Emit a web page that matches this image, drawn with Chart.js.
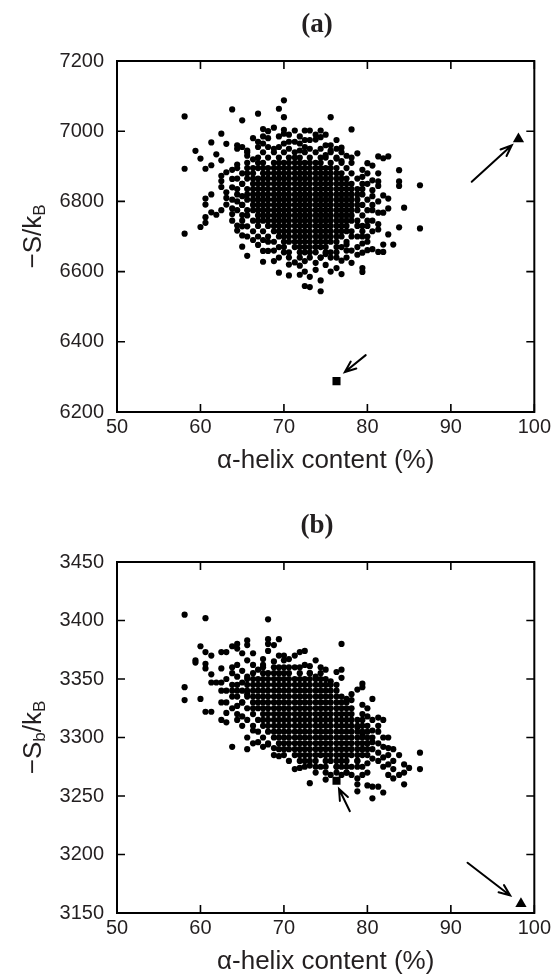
<!DOCTYPE html>
<html>
<head>
<meta charset="utf-8">
<script src="https://cdn.jsdelivr.net/npm/chart.js@4.4.1/dist/chart.umd.min.js"></script>
<style>
  html, body { margin: 0; padding: 0; background: #fff; }
  #wrapA { position: absolute; left: 0; top: 0; width: 554px; height: 487px; }
  #wrapB { position: absolute; left: 0; top: 487px; width: 554px; height: 488px; }
</style>
</head>
<body>
<div id="wrapA"><canvas id="chartA" width="554" height="487"></canvas></div>
<div id="wrapB"><canvas id="chartB" width="554" height="488"></canvas></div>
<script>
const FONT = '"Liberation Sans", Arial, sans-serif';
const INK = '#231f20';

// axis ticks
const xTicks = [50, 60, 70, 80, 90, 100];
const yTicksA = [6200, 6400, 6600, 6800, 7000, 7200];
const yTicksB = [3150, 3200, 3250, 3300, 3350, 3400, 3450];

// (a) dense part of the cloud, read row by row: [ -S/kB , [helix % ...] ]
const coreA = [
  [6940, [65.6, 67.5, 68.8, 70.0, 71.3, 72.5, 73.8, 75.6]],
  [6925, [66.9, 68.1, 69.4, 70.6, 71.3, 71.9, 73.1, 74.4, 75.0, 76.3]],
  [6910, [65.6, 66.9, 67.5, 68.8, 69.4, 70.0, 70.6, 71.3, 71.9, 72.5, 73.1, 73.8, 74.4, 75.6, 76.9]],
  [6895, [64.4, 65.6, 66.3, 66.9, 67.5, 68.1, 68.8, 69.4, 70.0, 70.6, 71.3, 71.9, 72.5, 73.1, 73.8, 74.4, 75.0, 75.6, 76.3, 77.5]],
  [6880, [65.0, 65.6, 66.3, 67.5, 68.1, 68.8, 69.4, 70.0, 70.6, 71.3, 71.9, 72.5, 73.1, 73.8, 74.4, 75.0, 75.6, 76.3, 76.9, 78.1]],
  [6865, [64.4, 65.6, 66.3, 66.9, 67.5, 68.1, 68.8, 69.4, 70.0, 70.6, 71.3, 71.9, 72.5, 73.1, 73.8, 74.4, 75.0, 75.6, 76.3, 76.9, 77.5, 78.8]],
  [6850, [65.0, 66.3, 66.9, 67.5, 68.1, 68.8, 69.4, 70.0, 70.6, 71.3, 71.9, 72.5, 73.1, 73.8, 74.4, 75.0, 75.6, 76.3, 76.9, 77.5, 78.1, 79.4]],
  [6835, [65.6, 66.3, 66.9, 67.5, 68.1, 68.8, 69.4, 70.0, 70.6, 71.3, 71.9, 72.5, 73.1, 73.8, 74.4, 75.0, 75.6, 76.3, 76.9, 77.5, 78.1, 78.8]],
  [6820, [64.4, 65.6, 66.3, 66.9, 67.5, 68.1, 68.8, 69.4, 70.0, 70.6, 71.3, 71.9, 72.5, 73.1, 73.8, 74.4, 75.0, 75.6, 76.3, 76.9, 77.5, 78.1, 78.8, 79.4]],
  [6805, [65.6, 66.3, 66.9, 67.5, 68.1, 68.8, 69.4, 70.0, 70.6, 71.3, 71.9, 72.5, 73.1, 73.8, 74.4, 75.0, 75.6, 76.3, 76.9, 77.5, 78.1, 78.8, 80.0]],
  [6790, [65.0, 66.3, 66.9, 67.5, 68.1, 68.8, 69.4, 70.0, 70.6, 71.3, 71.9, 72.5, 73.1, 73.8, 74.4, 75.0, 75.6, 76.3, 76.9, 77.5, 78.1, 78.8, 79.4]],
  [6775, [66.3, 66.9, 67.5, 68.1, 68.8, 69.4, 70.0, 70.6, 71.3, 71.9, 72.5, 73.1, 73.8, 74.4, 75.0, 75.6, 76.3, 76.9, 77.5, 78.1, 78.8, 80.0]],
  [6760, [65.6, 66.9, 67.5, 68.1, 68.8, 69.4, 70.0, 70.6, 71.3, 71.9, 72.5, 73.1, 73.8, 74.4, 75.0, 75.6, 76.3, 76.9, 77.5, 78.1, 79.4]],
  [6745, [66.3, 67.5, 68.1, 68.8, 69.4, 70.0, 70.6, 71.3, 71.9, 72.5, 73.1, 73.8, 74.4, 75.0, 75.6, 76.3, 76.9, 77.5, 78.1, 78.8, 80.0]],
  [6730, [66.9, 68.1, 68.8, 69.4, 70.0, 70.6, 71.3, 71.9, 72.5, 73.1, 73.8, 74.4, 75.0, 75.6, 76.3, 76.9, 77.5, 78.8, 79.4]],
  [6715, [67.5, 68.8, 69.4, 70.0, 70.6, 71.3, 71.9, 72.5, 73.1, 73.8, 74.4, 75.0, 75.6, 76.3, 76.9, 77.5, 78.1, 79.4]],
  [6700, [68.1, 69.4, 70.0, 70.6, 71.3, 71.9, 72.5, 73.1, 73.8, 74.4, 75.0, 75.6, 76.3, 76.9, 78.1, 78.8]],
  [6685, [68.8, 70.0, 70.6, 71.3, 71.9, 72.5, 73.1, 73.8, 74.4, 75.0, 75.6, 76.3, 77.5]],
  [6670, [70.0, 71.3, 71.9, 72.5, 73.1, 73.8, 74.4, 75.0, 76.3, 76.9]],
  [6655, [70.6, 71.9, 72.5, 73.1, 73.8, 75.0, 75.6]],
  [6640, [71.9, 73.1, 74.4, 76.3]]
];

// (a) scattered points round the dense part: [helix %, -S/kB]
const outerA = [
  [58.1, 7042], [58.1, 6893], [58.1, 6708], [59.4, 6944], [60.0, 6922], [60.0, 6727],
  [60.6, 6893], [60.6, 6808], [60.6, 6791], [60.6, 6755], [60.6, 6739],
  [61.3, 6968], [61.3, 6903], [61.3, 6820], [61.3, 6769], [61.9, 6934], [61.9, 6762],
  [62.5, 6993], [62.5, 6917], [62.5, 6873], [62.5, 6858], [62.5, 6841], [62.5, 6775],
  [63.1, 6964], [63.1, 6883], [63.1, 6826], [63.1, 6791],
  [63.8, 7062], [63.8, 6864], [63.8, 6764], [63.8, 6745], [64.4, 6731], [64.4, 6717],
  [65.0, 7031], [65.0, 6761], [65.0, 6729], [65.0, 6703], [65.0, 6671],
  [65.6, 6700], [65.6, 6729], [65.6, 6645], [66.9, 7050], [66.9, 6676],
  [67.5, 6628], [67.5, 6659], [68.1, 6659], [70.0, 7088], [69.4, 7064], [70.0, 7040],
  [67.5, 7006], [68.1, 7000], [68.8, 7010], [70.0, 7004], [70.0, 6993], [67.5, 6985], [68.1, 6980], [66.3, 6980],
  [64.4, 6960], [65.0, 6955], [65.6, 6945], [66.9, 6955], [67.5, 6965], [68.1, 6955], [68.8, 6950],
  [70.0, 6965], [70.6, 6970], [71.3, 6970], [71.9, 6965], [72.5, 6975], [73.1, 6975], [73.8, 6976], [74.4, 6983], [75.0, 6960],
  [71.3, 7002], [72.5, 7002], [73.1, 7002], [74.4, 7002], [75.6, 7040], [78.1, 7005],
  [75.6, 6960], [76.9, 6953], [78.8, 6937], [75.0, 6932], [76.3, 6922], [76.9, 6915], [78.1, 6910],
  [81.3, 6928], [81.9, 6923], [82.5, 6928], [80.0, 6909], [80.6, 6902],
  [83.8, 6889], [83.8, 6857], [83.8, 6844], [86.3, 6846], [86.3, 6723], [84.4, 6782], [83.8, 6726],
  [82.5, 6808], [82.5, 6780], [82.5, 6706], [81.9, 6817], [81.9, 6768], [81.3, 6768], [81.3, 6857], [81.3, 6844],
  [80.6, 6832], [79.4, 6870], [80.6, 6790], [80.6, 6745], [80.6, 6715], [80.0, 6700],
  [81.9, 6677], [83.1, 6677], [81.3, 6656], [81.9, 6656], [80.6, 6664], [80.0, 6661], [78.8, 6648], [79.4, 6654], [77.5, 6677],
  [74.4, 6544], [72.5, 6559], [73.1, 6556], [69.4, 6597], [70.6, 6589], [71.9, 6591], [73.8, 6605], [75.0, 6619],
  [76.3, 6610], [76.9, 6593], [76.9, 6631], [79.4, 6610], [79.4, 6599], [71.3, 6626], [71.9, 6617],
  [69.4, 6640], [70.6, 6640], [77.5, 6640],
  [64.4, 6950], [65.6, 6930], [66.3, 6920], [64.4, 6905], [63.8, 6890], [63.8, 6840], [64.4, 6835], [64.4, 6800],
  [63.8, 6805], [63.1, 6810], [64.4, 6775], [63.8, 6780], [65.0, 6745], [65.6, 6775], [66.3, 6715], [66.9, 6700],
  [66.3, 6690], [67.5, 6690], [68.1, 6685], [66.9, 6745], [65.0, 6850], [65.0, 6815], [65.0, 6790],
  [66.9, 6970], [69.4, 6985], [70.6, 6990], [71.9, 6985], [73.8, 6990], [75.0, 6990], [76.3, 6975], [76.9, 6940],
  [77.5, 6930], [78.1, 6925], [75.6, 6945], [74.4, 6950], [73.1, 6950], [71.9, 6945], [69.4, 6955], [70.6, 6950],
  [72.5, 6955], [76.3, 6950],
  [79.4, 6890], [80.0, 6880], [80.6, 6860], [80.6, 6815], [81.3, 6800], [80.6, 6775], [81.3, 6735], [81.3, 6720],
  [80.0, 6730], [79.4, 6700], [80.0, 6685], [79.4, 6680], [78.8, 6670], [78.1, 6660], [80.0, 6850], [79.4, 6835], [81.3, 6880],
  [68.8, 6660], [69.4, 6670], [70.0, 6655], [68.8, 6630], [70.6, 6620], [72.5, 6630], [73.8, 6625], [74.4, 6640],
  [75.6, 6640], [76.3, 6655], [77.5, 6660], [75.0, 6650], [72.5, 6600], [73.1, 6585], [74.4, 6575], [75.6, 6600], [78.1, 6625]
];
const squareA = [76.3, 6288];
const triangleA = [98.1, 6978];
// arrows: [tail x, tail y, head x, head y]
const arrowsA = [[79.8, 6362, 77.3, 6314], [92.5, 6856, 97.3, 6960]];

// (b) dense part, rows of [ -Sb/kB , [helix % ...] ]
const coreB = [
  [3360, [67.5, 68.8, 69.4, 70.6, 71.3]],
  [3355, [66.3, 67.5, 68.1, 68.8, 69.4, 70.0, 70.6, 71.9, 73.1, 74.4]],
  [3350, [65.6, 66.9, 67.5, 68.1, 68.8, 69.4, 70.0, 70.6, 71.3, 71.9, 72.5, 73.1, 73.8, 75.0]],
  [3345, [64.4, 65.6, 66.3, 66.9, 67.5, 68.1, 68.8, 69.4, 70.0, 70.6, 71.3, 71.9, 72.5, 73.1, 73.8, 74.4, 75.0, 75.6]],
  [3340, [63.8, 65.0, 65.6, 66.3, 66.9, 67.5, 68.1, 68.8, 69.4, 70.0, 70.6, 71.3, 71.9, 72.5, 73.1, 73.8, 74.4, 75.0, 75.6, 76.3]],
  [3335, [64.4, 65.6, 66.3, 66.9, 67.5, 68.1, 68.8, 69.4, 70.0, 70.6, 71.3, 71.9, 72.5, 73.1, 73.8, 74.4, 75.0, 75.6, 76.3, 76.9]],
  [3330, [65.0, 66.3, 66.9, 67.5, 68.1, 68.8, 69.4, 70.0, 70.6, 71.3, 71.9, 72.5, 73.1, 73.8, 74.4, 75.0, 75.6, 76.3, 76.9, 77.5]],
  [3325, [65.6, 66.3, 66.9, 67.5, 68.1, 68.8, 69.4, 70.0, 70.6, 71.3, 71.9, 72.5, 73.1, 73.8, 74.4, 75.0, 75.6, 76.3, 76.9, 77.5, 78.1]],
  [3320, [64.4, 66.3, 67.5, 68.1, 68.8, 69.4, 70.0, 70.6, 71.3, 71.9, 72.5, 73.1, 73.8, 74.4, 75.0, 75.6, 76.3, 76.9, 77.5, 78.1]],
  [3315, [65.6, 66.9, 67.5, 68.1, 68.8, 69.4, 70.0, 70.6, 71.3, 71.9, 72.5, 73.1, 73.8, 74.4, 75.0, 75.6, 76.3, 76.9, 77.5, 78.1, 78.8]],
  [3310, [66.3, 67.5, 68.1, 68.8, 69.4, 70.0, 70.6, 71.3, 71.9, 72.5, 73.1, 73.8, 74.4, 75.0, 75.6, 76.3, 76.9, 77.5, 78.1, 78.8]],
  [3305, [66.9, 68.1, 68.8, 69.4, 70.0, 70.6, 71.3, 71.9, 72.5, 73.1, 73.8, 74.4, 75.0, 75.6, 76.3, 76.9, 77.5, 78.1, 78.8, 79.4]],
  [3300, [67.5, 68.8, 69.4, 70.0, 70.6, 71.3, 71.9, 72.5, 73.1, 73.8, 74.4, 75.0, 75.6, 76.3, 76.9, 77.5, 78.1, 78.8, 79.4, 80.0]],
  [3295, [68.1, 69.4, 70.0, 70.6, 71.3, 71.9, 72.5, 73.1, 73.8, 74.4, 75.0, 75.6, 76.3, 76.9, 77.5, 78.1, 78.8, 79.4, 80.0]],
  [3290, [70.0, 70.6, 71.3, 71.9, 72.5, 73.1, 73.8, 74.4, 75.0, 75.6, 76.3, 76.9, 77.5, 78.1, 78.8, 79.4]],
  [3285, [71.3, 71.9, 72.5, 73.1, 73.8, 74.4, 75.0, 75.6, 76.3, 76.9, 77.5, 78.1, 78.8]],
  [3280, [71.9, 72.5, 73.1, 73.8, 75.0, 75.6, 76.3, 76.9, 77.5, 78.8]],
  [3275, [72.5, 73.8, 74.4, 75.0, 76.3, 76.9, 77.5]],
  [3270, [73.8, 75.0, 76.3, 77.5]]
];

const outerB = [
  [58.1, 3405], [60.6, 3402], [68.1, 3401], [58.1, 3343], [58.1, 3332], [60.0, 3333], [60.0, 3378],
  [60.6, 3322], [61.3, 3322], [60.6, 3373], [61.3, 3370], [59.4, 3366], [59.4, 3364], [60.6, 3363], [60.6, 3359], [61.3, 3354],
  [61.3, 3347], [61.9, 3347], [62.5, 3347], [62.5, 3373], [63.1, 3373], [63.1, 3321], [63.1, 3313], [62.5, 3315],
  [63.8, 3378], [64.4, 3380], [64.4, 3376], [65.6, 3383], [65.6, 3379], [65.0, 3372], [66.3, 3372],
  [68.1, 3384], [68.1, 3380], [68.8, 3379], [69.4, 3384], [68.1, 3374],
  [70.0, 3370], [70.0, 3366], [70.6, 3367], [71.3, 3370], [71.9, 3373], [72.5, 3374], [73.8, 3366], [73.1, 3361], [74.4, 3360], [75.0, 3358],
  [76.9, 3380], [76.9, 3358], [76.9, 3351], [76.3, 3356],
  [79.4, 3346], [79.4, 3343], [78.8, 3341], [78.1, 3337], [77.5, 3333], [78.1, 3332], [80.6, 3333], [79.4, 3328], [80.0, 3325],
  [81.3, 3317], [81.9, 3315], [79.4, 3315], [79.4, 3310], [78.8, 3309], [80.0, 3305], [80.6, 3306], [79.4, 3303],
  [81.9, 3300], [82.5, 3291], [80.6, 3296], [81.3, 3295], [80.0, 3295],
  [63.8, 3292], [65.6, 3290], [68.1, 3294], [68.8, 3291], [69.4, 3284],
  [86.3, 3287], [86.3, 3273], [84.4, 3260], [84.4, 3270], [84.4, 3277], [85.0, 3274], [83.1, 3273], [82.5, 3277],
  [81.9, 3253], [80.6, 3248], [80.0, 3259], [80.6, 3258], [81.3, 3258], [78.8, 3254], [78.8, 3260], [78.8, 3265],
  [73.1, 3261], [75.0, 3264], [75.6, 3268], [71.3, 3273], [71.9, 3274], [73.1, 3276],
  [80.6, 3290], [80.6, 3282], [81.3, 3287], [81.3, 3280], [81.9, 3283], [81.9, 3275], [82.5, 3285], [82.5, 3268], [83.1, 3280],
  [80.0, 3278], [80.0, 3270], [79.4, 3275], [79.4, 3268],
  [63.1, 3330], [63.8, 3335], [64.4, 3327], [62.5, 3340], [63.8, 3345], [64.4, 3352], [65.0, 3357], [66.3, 3362], [65.6, 3366],
  [67.5, 3367], [69.4, 3370], [62.5, 3359], [63.8, 3360],
  [65.0, 3310], [65.6, 3300], [66.3, 3306], [66.9, 3296], [64.4, 3315], [65.0, 3318],
  [62.5, 3330], [63.1, 3340], [63.8, 3325], [64.4, 3340], [65.0, 3347], [65.0, 3330], [65.6, 3337], [63.1, 3350],
  [63.8, 3355], [64.4, 3362], [65.6, 3352], [66.3, 3350], [66.9, 3358], [67.5, 3362], [68.8, 3365], [70.0, 3360],
  [71.9, 3360], [72.5, 3362], [73.1, 3355], [73.8, 3352], [74.4, 3350], [75.6, 3348], [76.3, 3345],
  [80.6, 3300], [81.3, 3305], [80.0, 3310], [80.6, 3315], [79.4, 3320], [80.0, 3318], [81.3, 3310], [82.5, 3300],
  [81.9, 3292], [83.1, 3290], [83.8, 3285], [83.1, 3265], [83.8, 3268], [80.0, 3285], [79.4, 3285], [78.8, 3280],
  [78.1, 3275], [78.8, 3275], [79.4, 3290], [80.0, 3290], [77.5, 3270], [76.9, 3268], [78.1, 3268], [76.3, 3275],
  [66.3, 3295], [67.5, 3292], [68.8, 3285], [70.0, 3285], [70.6, 3280], [69.4, 3290]
];
const squareB = [76.3, 3263];
const triangleB = [98.4, 3158];
const arrowsB = [[77.9, 3237, 76.6, 3256], [92.0, 3193, 97.1, 3165]];

function toPoints(core, outer) {
  var out = [];
  core.forEach(function (row) {
    row[1].forEach(function (x) { out.push({ x: x, y: row[0] }); });
  });
  outer.forEach(function (p) { out.push({ x: p[0], y: p[1] }); });
  return out;
}

function drawArrow(ctx, x1, y1, x2, y2) {
  var ang = Math.atan2(y2 - y1, x2 - x1), len = 12, spread = 0.38;
  ctx.beginPath();
  ctx.moveTo(x1, y1); ctx.lineTo(x2, y2);
  ctx.moveTo(x2 - len * Math.cos(ang - spread), y2 - len * Math.sin(ang - spread));
  ctx.lineTo(x2, y2);
  ctx.lineTo(x2 - len * Math.cos(ang + spread), y2 - len * Math.sin(ang + spread));
  ctx.stroke();
}

function framePlugin(cfg) {
  return {
    id: 'frame',
    afterDraw: function (chart) {
      var ctx = chart.ctx, a = chart.chartArea, sx = chart.scales.x, sy = chart.scales.y;
      ctx.save();
      ctx.strokeStyle = '#000';
      ctx.lineWidth = 2;
      ctx.strokeRect(a.left, a.top, a.right - a.left, a.bottom - a.top);
      ctx.lineWidth = 1.6;
      ctx.beginPath();
      cfg.xTicks.forEach(function (v) {
        var px = sx.getPixelForValue(v);
        ctx.moveTo(px, a.bottom); ctx.lineTo(px, a.bottom - 8);
        ctx.moveTo(px, a.top); ctx.lineTo(px, a.top + 8);
      });
      cfg.yTicks.forEach(function (v) {
        var py = sy.getPixelForValue(v);
        ctx.moveTo(a.left, py); ctx.lineTo(a.left + 8, py);
        ctx.moveTo(a.right, py); ctx.lineTo(a.right - 8, py);
      });
      ctx.stroke();

      ctx.lineWidth = 2;
      ctx.lineCap = 'round';
      cfg.arrows.forEach(function (r) {
        drawArrow(ctx, sx.getPixelForValue(r[0]), sy.getPixelForValue(r[1]),
          sx.getPixelForValue(r[2]), sy.getPixelForValue(r[3]));
      });

      // panel label
      ctx.fillStyle = INK;
      ctx.font = 'bold 27px "Liberation Serif", "Times New Roman", serif';
      ctx.textAlign = 'center';
      ctx.textBaseline = 'alphabetic';
      ctx.fillText(cfg.title, 317, cfg.titleY);

      // x axis title
      ctx.font = '26px ' + FONT;
      ctx.fillText('α-helix content (%)', (a.left + a.right) / 2, a.bottom + 55.5);

      // y axis title with subscripts
      ctx.translate(32, (a.top + a.bottom) / 2);
      ctx.rotate(-Math.PI / 2);
      var widths = [], total = 0;
      cfg.yTitle.forEach(function (p) {
        ctx.font = (p[1] ? '17px ' : '26px ') + FONT;
        var w = ctx.measureText(p[0]).width;
        widths.push(w); total += w;
      });
      var x0 = -total / 2;
      ctx.textAlign = 'left';
      cfg.yTitle.forEach(function (p, i) {
        ctx.font = (p[1] ? '17px ' : '26px ') + FONT;
        ctx.fillText(p[0], x0, p[1] ? 13 : 9);
        x0 += widths[i];
      });
      ctx.restore();
    }
  };
}

function makeChart(id, cfg) {
  var ctx = document.getElementById(id).getContext('2d');
  return new Chart(ctx, {
    type: 'scatter',
    data: {
      datasets: [
        {
          data: toPoints(cfg.core, cfg.outer),
          backgroundColor: '#000', borderWidth: 0,
          pointRadius: 3.1, pointHoverRadius: 3.1
        },
        {
          data: [{ x: cfg.square[0], y: cfg.square[1] }],
          pointStyle: 'rect', backgroundColor: '#000', borderWidth: 0,
          pointRadius: 5.7, pointHoverRadius: 5.7
        },
        {
          data: [{ x: cfg.triangle[0], y: cfg.triangle[1] }],
          pointStyle: 'triangle', backgroundColor: '#000', borderWidth: 0,
          pointRadius: 6.5, pointHoverRadius: 6.5
        }
      ]
    },
    options: {
      responsive: false,
      animation: false,
      devicePixelRatio: 1,
      layout: { padding: { top: cfg.padTop, right: cfg.padRight, left: 0, bottom: 0 } },
      plugins: { legend: { display: false }, tooltip: { enabled: false } },
      scales: {
        x: {
          type: 'linear', min: 50, max: 100,
          grid: { display: false, drawTicks: false },
          border: { display: false },
          ticks: {
            stepSize: 10, padding: 3, color: INK,
            font: { family: FONT, size: 20 },
            callback: function (v) { return String(v); }
          },
          afterFit: function (s) { s.height = cfg.xAxisH; }
        },
        y: {
          type: 'linear', min: cfg.yMin, max: cfg.yMax,
          grid: { display: false, drawTicks: false },
          border: { display: false },
          ticks: {
            stepSize: cfg.yStep, padding: 13, color: INK,
            font: { family: FONT, size: 20 },
            callback: function (v) { return String(v); }
          },
          afterFit: function (s) { s.width = 117; }
        }
      }
    },
    plugins: [framePlugin(cfg)]
  });
}

makeChart('chartA', {
  core: coreA, outer: outerA, square: squareA, triangle: triangleA, arrows: arrowsA,
  yMin: 6200, yMax: 7200, yStep: 200, yTicks: yTicksA, xTicks: xTicks,
  padTop: 61, padRight: 18, xAxisH: 75,
  title: '(a)', titleY: 31.5,
  yTitle: [['−S/k', false], ['B', true]]
});

makeChart('chartB', {
  core: coreB, outer: outerB, square: squareB, triangle: triangleB, arrows: arrowsB,
  yMin: 3150, yMax: 3450, yStep: 50, yTicks: yTicksB, xTicks: xTicks,
  padTop: 75, padRight: 17, xAxisH: 62,
  title: '(b)', titleY: 45.5,
  yTitle: [['−S', false], ['b', true], ['/k', false], ['B', true]]
});
</script>
</body>
</html>
